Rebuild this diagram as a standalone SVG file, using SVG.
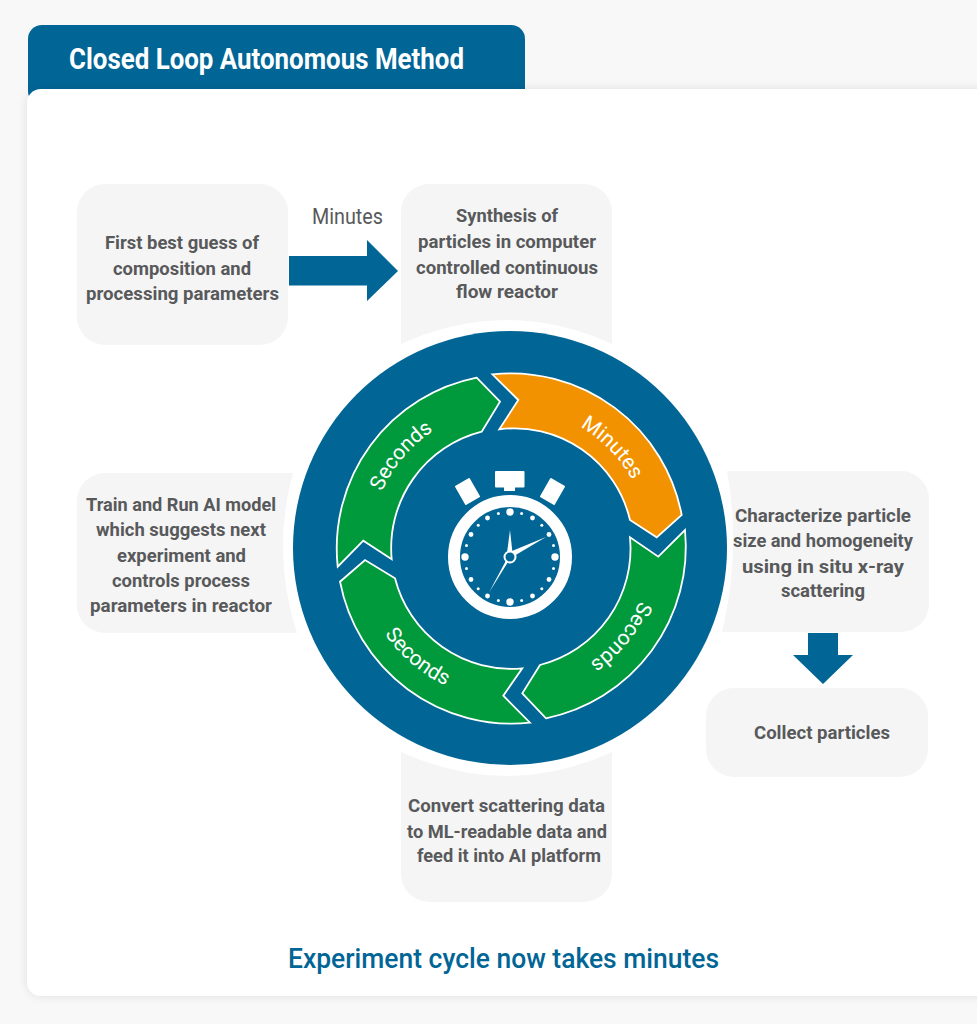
<svg xmlns="http://www.w3.org/2000/svg" xmlns:xlink="http://www.w3.org/1999/xlink" width="977" height="1024" viewBox="0 0 977 1024">
<style>
text{font-family:"Roboto","Liberation Sans",sans-serif}
.box{fill:#f5f5f5}
.blue{fill:#016595}
.lbl{font-size:18.5px;font-weight:700;fill:#58595b}
.seg{stroke:#fff;stroke-width:1.8;stroke-linejoin:miter}
.arc{font-size:21px;fill:#fff}
.w{fill:#fff}
</style>
<defs>
<filter id="sh" x="-5%" y="-5%" width="110%" height="110%"><feDropShadow dx="0" dy="0" stdDeviation="5" flood-color="#000" flood-opacity="0.1"/></filter>
<path id="pL" d="M378.2 595.2A140 140 0 0 1 535 410.3"/>
<path id="pM" d="M475 412.5A140 140 0 0 1 644.9 585.4"/>
<path id="pR" d="M640.4 497.1A140 140 0 0 1 488.8 686.4"/>
<path id="pB" d="M360.5 520.8A152 152 0 0 0 561.2 691.1"/>
<g id="dots" class="w">
<circle cx="510" cy="512" r="3.7"/>
<circle cx="521.6" cy="513.5" r="1.5"/>
<circle cx="532.5" cy="518" r="2.4"/>
<circle cx="541.8" cy="525.2" r="1.5"/>
<circle cx="549" cy="534.5" r="2.4"/>
<circle cx="553.5" cy="545.4" r="1.5"/>
</g>
</defs>
<rect width="977" height="1024" fill="#f8f8f8"/>
<rect id="tab" class="blue" x="28" y="25" width="497" height="80" rx="14"/>
<rect id="card" x="27" y="89" width="1000" height="907" rx="14" fill="#fff" filter="url(#sh)"/>
<text x="69" y="69" font-size="29" font-weight="700" fill="#fff" textLength="395" lengthAdjust="spacingAndGlyphs">Closed Loop Autonomous Method</text>

<g id="n-guess"><rect class="box" x="77" y="184" width="211" height="161" rx="28"/>
<text class="lbl" x="105" y="249" textLength="154" lengthAdjust="spacingAndGlyphs">First best guess of</text>
<text class="lbl" x="113" y="275" textLength="138" lengthAdjust="spacingAndGlyphs">composition and</text>
<text class="lbl" x="86" y="300" textLength="193" lengthAdjust="spacingAndGlyphs">processing parameters</text></g>

<g id="n-synth"><path class="box" d="M429 184H584A28 28 0 0 1 612 212V344Q507 296 401 344V212A28 28 0 0 1 429 184Z"/>
<text class="lbl" x="456" y="222" textLength="102" lengthAdjust="spacingAndGlyphs">Synthesis of</text>
<text class="lbl" x="418" y="248" textLength="178" lengthAdjust="spacingAndGlyphs">particles in computer</text>
<text class="lbl" x="416" y="274" textLength="182" lengthAdjust="spacingAndGlyphs">controlled continuous</text>
<text class="lbl" x="456" y="298" textLength="102" lengthAdjust="spacingAndGlyphs">flow reactor</text></g>

<g id="n-train"><path class="box" d="M105 473H293Q271 553 297 633H105A28 28 0 0 1 77 605V501A28 28 0 0 1 105 473Z"/>
<text class="lbl" x="86" y="511" textLength="190" lengthAdjust="spacingAndGlyphs">Train and Run AI model</text>
<text class="lbl" x="96" y="536" textLength="170" lengthAdjust="spacingAndGlyphs">which suggests next</text>
<text class="lbl" x="117" y="562" textLength="129" lengthAdjust="spacingAndGlyphs">experiment and</text>
<text class="lbl" x="112" y="587" textLength="138" lengthAdjust="spacingAndGlyphs">controls process</text>
<text class="lbl" x="90" y="612" textLength="182" lengthAdjust="spacingAndGlyphs">parameters in reactor</text></g>

<g id="n-char"><path class="box" d="M727 471H901A28 28 0 0 1 929 499V604A28 28 0 0 1 901 632H722Q741.500 550 727 471Z"/>
<text class="lbl" x="735" y="522" textLength="176" lengthAdjust="spacingAndGlyphs">Characterize particle</text>
<text class="lbl" x="733" y="547" textLength="180" lengthAdjust="spacingAndGlyphs">size and homogeneity</text>
<text class="lbl" x="742" y="573" textLength="162" lengthAdjust="spacingAndGlyphs">using in situ x-ray</text>
<text class="lbl" x="781" y="597" textLength="84" lengthAdjust="spacingAndGlyphs">scattering</text></g>

<g id="n-collect"><rect class="box" x="706" y="688" width="222" height="89" rx="28"/>
<text class="lbl" x="754" y="738.500" textLength="136" lengthAdjust="spacingAndGlyphs">Collect particles</text></g>

<g id="n-convert"><path class="box" d="M401 752Q507 800 612 752V874A28 28 0 0 1 584 902H429A28 28 0 0 1 401 874Z"/>
<text class="lbl" x="408" y="812" textLength="197" lengthAdjust="spacingAndGlyphs">Convert scattering data</text>
<text class="lbl" x="407" y="838" textLength="200" lengthAdjust="spacingAndGlyphs">to ML-readable data and</text>
<text class="lbl" x="417" y="862" textLength="184" lengthAdjust="spacingAndGlyphs">feed it into AI platform</text></g>

<g id="connectors">
<polygon class="blue" points="289,256 367,256 367,240 398,271 367,301 367,285.500 289,285.500"/>
<polygon class="blue" points="808,633 838,633 838,655 853,655 823,684 793,655 808,655"/>
</g>
<text x="312" y="224" font-size="21.500" fill="#58595b" textLength="71" lengthAdjust="spacingAndGlyphs">Minutes</text>

<g id="cycle">
<circle class="blue" cx="510" cy="548" r="217"/>
<path id="seg-minutes" class="seg" fill="#f39200" d="M492.300 374.300A174 174 0 0 1 681.700 515L656.700 537.300L630 520A119 119 0 0 0 499.300 429.300L518.300 400Z"/>
<path id="seg-right" class="seg" fill="#009a3d" d="M685 530A175 175 0 0 1 546 718.300L522.300 693.300L540 665A120 120 0 0 0 630 537.300L658.300 556.700Z"/>
<path id="seg-bottom" class="seg" fill="#009a3d" d="M530 722.700A175 175 0 0 1 340 581.700L365 560L395 578.300A120 120 0 0 0 522.300 668.300L503.300 695.700Z"/>
<path id="seg-left" class="seg" fill="#009a3d" d="M337.700 566.700A174 174 0 0 1 476.700 377.700L500 401.700L481.700 431.700A120 120 0 0 0 391.700 559.300L363.300 540.700Z"/>
<text class="arc"><textPath xlink:href="#pL" href="#pL" startOffset="50%" text-anchor="middle">Seconds</textPath></text>
<text class="arc"><textPath xlink:href="#pM" href="#pM" startOffset="50%" text-anchor="middle">Minutes</textPath></text>
<text class="arc"><textPath xlink:href="#pR" href="#pR" startOffset="50%" text-anchor="middle">Seconds</textPath></text>
<text class="arc"><textPath xlink:href="#pB" href="#pB" startOffset="50%" text-anchor="middle">Seconds</textPath></text>
</g>

<g id="stopwatch">
<circle cx="510" cy="557" r="56" fill="none" stroke="#fff" stroke-width="12"/>
<rect class="w" x="495" y="471" width="29.500" height="16.500" rx="1"/>
<rect class="w" x="504" y="487" width="11" height="4"/>
<rect class="w" x="459" y="480.500" width="17" height="22" rx="1" transform="rotate(-30 467.500 491.500)"/>
<rect class="w" x="544" y="480.500" width="17" height="22" rx="1" transform="rotate(30 552.500 491.500)"/>
<use href="#dots" xlink:href="#dots"/>
<use href="#dots" xlink:href="#dots" transform="rotate(90 510 557)"/>
<use href="#dots" xlink:href="#dots" transform="rotate(180 510 557)"/>
<use href="#dots" xlink:href="#dots" transform="rotate(270 510 557)"/>
<polygon class="w" points="510,530 512.500,553 507,553"/>
<polygon class="w" points="546,537 514,556 512,551"/>
<polygon class="w" points="489,592.500 506,560.500 508,562"/>
<circle cx="510" cy="557" r="5.500" fill="#016595" stroke="#fff" stroke-width="2"/>
</g>

<text x="288" y="968" font-size="28.500" font-weight="500" fill="#016595" textLength="431" lengthAdjust="spacingAndGlyphs">Experiment cycle now takes minutes</text>
</svg>
